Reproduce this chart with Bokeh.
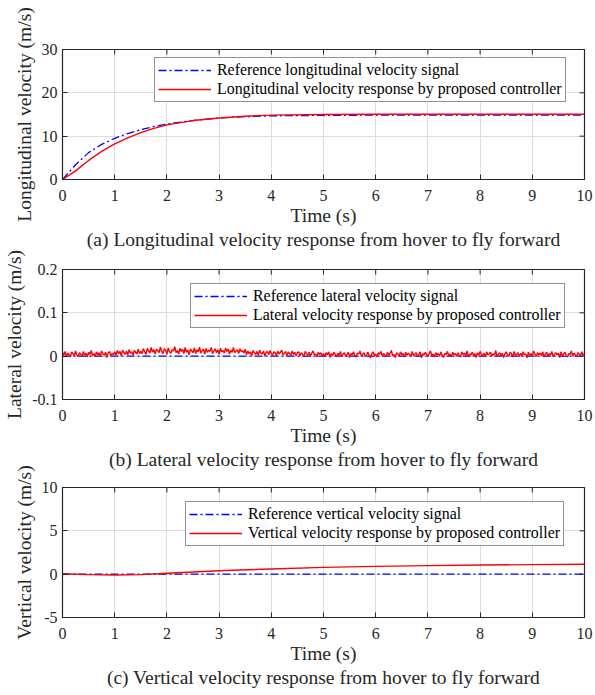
from bokeh.plotting import figure
from bokeh.layouts import column
from bokeh.models import (FixedTicker, Title, Legend, LegendItem, Range1d)
from bokeh.embed import file_html
from bokeh.resources import INLINE
import numpy as np

FONT = "'Liberation Serif', 'Times New Roman', serif"

# ---------------- data ----------------
# (a) longitudinal
lon_t = [0, 0.25, 0.5, 0.75, 1, 1.25, 1.5, 1.75, 2, 2.5, 3, 3.5, 4, 5, 6, 7, 8, 9, 10]
lon_ref = [0, 3.4, 6.2, 8.1, 9.5, 10.6, 11.5, 12.2, 12.8, 13.6, 14.2, 14.5, 14.7, 14.8, 14.85, 14.85, 14.85, 14.85, 14.85]
lon_resp = [0, 2.0, 4.4, 6.5, 8.2, 9.6, 10.8, 11.8, 12.6, 13.6, 14.2, 14.6, 14.85, 15.0, 15.05, 15.05, 15.05, 15.05, 15.05]

# (b) lateral (sampled every 0.025 s), response in 1e-3 m/s
lat_t = np.linspace(0, 10, 401)
lat_ref = [0.0] * 401
lat_resp_milli = [
    # 0 - 1 s
    9, 2, 11, 0, 7, 4, -2, 10, 6, 1, 12, 3, -1, 8, 5, 0, 11, 2, 7, -2,
    9, 4, 13, 1, 6, -1, 10, 3, 8, 0, 12, 5, 2, 9, -3, 7, 11, 1, 6, 3, 10,
    # 1 - 1.5 s
    2, 13, 6, 11, 1, 14, 8, 4, 12, 3, 15, 7, 10, 2, 13, 9, 5, 16, 6, 11,
    # 1.5 - 3.5 s
    6, 17, 10, 4, 18, 12, 7, 20, 9, 15, 5, 16, 13, 8, 21, 11, 6, 17, 14, 4,
    19, 10, 7, 15, 12, 22, 8, 13, 5, 18, 11, 16, 6, 20, 9, 14, 3, 17, 12, 8,
    19, 6, 15, 10, 21, 7, 13, 16, 5, 18, 9, 14, 11, 20, 6, 12, 17, 8, 15, 4,
    18, 10, 13, 7, 19, 11, 16, 5, 14, 9, 20, 8, 12, 15, 6, 17, 10, 13, 7, 16,
    # 3.5 - 4.5 s
    3, 12, 6, 10, 1, 13, 8, 4, 11, 2, 14, 7, 5, 12, 0, 9, 11, 3, 13, 6,
    2, 10, 8, 1, 12, 5, 9, 14, 3, 7, 11, 0, 10, 6, 2, 12, 4, 9, 1, 8,
    # 4.5 - 5 s
    10, 1, 8, 4, -1, 11, 6, 2, 9, 0, 7, 12, 3, 5, -2, 9, 4, 8, 1, 6,
    # 5 - 10 s
    -1, 8, 3, 10, -3, 6, 1, 9, 4, -2, 7, 2, 11, -1, 5, 8, 0, 4, 9, -3,
    6, 3, 10, 1, -2, 7, 5, 12, 0, 4, 8, -1, 3, 9, 2, -4, 6, 10, 1, 5,
    -2, 8, 4, 11, 0, 6, 3, -1, 9, 2, 7, 13, 1, 4, -3, 8, 5, 0, 10, 3,
    6, -2, 9, 2, 7, 4, -1, 11, 1, 5, 8, 0, 3, 10, -4, 6, 2, 9, 4, -1,
    7, 12, 1, 5, -2, 8, 3, 6, 0, 10, 2, -3, 7, 4, 11, 1, 5, -1, 9, 3,
    6, 0, 8, 2, -2, 10, 4, 7, 1, 12, -1, 5, 3, 9, 0, 6, -3, 8, 2, 11,
    4, 1, 7, -2, 10, 3, 5, 9, 0, 6, 2, 13, -1, 4, 8, 1, 7, -3, 5, 10,
    3, 0, 9, 6, -2, 11, 2, 4, 8, -1, 7, 1, 10, 3, 5, -4, 9, 2, 6, 0,
    12, 4, -1, 8, 3, 7, 1, 10, -2, 5, 9, 0, 6, 2, 11, -1, 4, 8, 3, 7,
    -3, 10, 1, 5, 9, 2, -2, 6, 4, 12, 0, 7, 3, -1, 8, 5, 2, 10, 1, 6,
]
lat_resp = [v / 1000.0 for v in lat_resp_milli]

# (c) vertical
ver_t = [0, 0.5, 1, 1.5, 2, 2.5, 3, 4, 5, 6, 7, 8, 9, 10]
ver_ref = [0] * 14
ver_resp = [0.05, -0.05, -0.1, -0.05, 0.1, 0.25, 0.4, 0.6, 0.78, 0.9, 0.98, 1.05, 1.1, 1.15]

x_ticks = [0, 1, 2, 3, 4, 5, 6, 7, 8, 9, 10]

AX = "#262626"
TICK_FS = "16px"
LABEL_FS = "19.5px"
LEG_FS = "15.9px"


def make_panel(t_ref, ref, t_resp, resp, yr, yticks, ylabels, ylabel, caption,
               ref_label, resp_label, top_border, bottom_border, legend_loc,
               top_margin=0):
    p = figure(frame_width=522, frame_height=130, output_backend="svg",
               toolbar_location=None, x_range=Range1d(0, 10),
               y_range=Range1d(*yr), min_border_left=62, min_border_right=11,
               min_border_top=top_border, min_border_bottom=bottom_border,
               x_axis_label="Time (s)", y_axis_label=ylabel,
               margin=(top_margin, 0, 0, 0))
    p.background_fill_color = "white"
    p.border_fill_color = None
    p.outline_line_color = AX
    p.outline_line_width = 1.2

    for ax in (p.xaxis[0], p.yaxis[0]):
        ax.major_label_text_font = FONT
        ax.major_label_text_font_size = TICK_FS
        ax.major_label_text_color = AX
        ax.axis_label_text_font = FONT
        ax.axis_label_text_font_size = LABEL_FS
        ax.axis_label_text_font_style = "normal"
        ax.axis_label_text_color = AX
        ax.axis_line_color = AX
        ax.major_tick_line_color = AX
        ax.major_tick_in = 5
        ax.major_tick_out = 0
        ax.minor_tick_line_color = None
    p.xaxis[0].ticker = FixedTicker(ticks=x_ticks)
    p.yaxis[0].ticker = FixedTicker(ticks=yticks)
    p.yaxis[0].major_label_overrides = dict(zip(yticks, ylabels))
    p.xaxis[0].major_label_standoff = 10
    p.xaxis[0].axis_label_standoff = 1
    p.yaxis[0].major_label_standoff = 5
    p.yaxis[0].axis_label_standoff = 4

    p.xgrid.ticker = FixedTicker(ticks=x_ticks)
    p.ygrid.ticker = FixedTicker(ticks=yticks)
    for g in (p.xgrid[0], p.ygrid[0]):
        g.grid_line_color = "#dddddd"
        g.grid_line_width = 1

    # inward ticks on top and right edges of the box (clipped to the frame)
    p.scatter(x_ticks, [yr[1]] * len(x_ticks), marker="dash", size=10, angle=np.pi / 2,
              line_color=AX, line_width=1)
    p.scatter([10] * len(yticks), yticks, marker="dash", size=10,
              line_color=AX, line_width=1)

    r_ref = p.line(t_ref, ref, line_color="blue", line_alpha=1.0, line_width=1.3,
                   line_dash="8 3 2 3")
    r_resp = p.line(t_resp, resp, line_color="red", line_alpha=1.0, line_width=1.4)

    leg = Legend(items=[LegendItem(label=ref_label, renderers=[r_ref]),
                        LegendItem(label=resp_label, renderers=[r_resp])],
                 location=legend_loc)
    leg.label_text_font = FONT
    leg.label_text_font_size = LEG_FS
    leg.label_text_color = "#000000"
    leg.border_line_color = AX
    leg.border_line_width = 1.2
    leg.background_fill_color = "white"
    leg.background_fill_alpha = 1
    leg.glyph_width = 53
    leg.glyph_height = 18
    leg.label_height = 18
    leg.label_standoff = 6
    leg.spacing = 1
    leg.padding = 3
    leg.margin = 0
    p.add_layout(leg, "center")

    cap = Title(text=caption, align="center", text_font=FONT, text_font_size=LABEL_FS,
                text_font_style="normal", text_color=AX, standoff=-3)
    p.add_layout(cap, "below")
    return p


p1 = make_panel(lon_t, lon_ref, lon_t, lon_resp, (0, 30), [0, 10, 20, 30],
                ["0", "10", "20", "30"],
                "Longitudinal velocity (m/s)",
                "(a) Longitudinal velocity response from hover to fly forward",
                "Reference longitudinal velocity signal",
                "Longitudinal velocity response by proposed controller",
                49, 76, (92, 77))
p2 = make_panel(lat_t, lat_ref, lat_t, lat_resp, (-0.1, 0.2), [-0.1, 0, 0.1, 0.2],
                ["-0.1", "0", "0.1", "0.2"],
                "Lateral velocity (m/s)",
                "(b) Lateral velocity response from hover to fly forward",
                "Reference lateral velocity signal",
                "Lateral velocity response by proposed controller",
                24, 76, (128, 71), top_margin=-10)
p3 = make_panel(ver_t, ver_ref, ver_t, ver_resp, (-5, 10), [-5, 0, 5, 10],
                ["-5", "0", "5", "10"],
                "Vertical velocity (m/s)",
                "(c) Vertical velocity response from hover to fly forward",
                "Reference vertical velocity signal",
                "Vertical velocity response by proposed controller",
                27, 78, (123, 71), top_margin=-15)

layout = column(p1, p2, p3, spacing=0)
open("out.html", "w").write(file_html(layout, INLINE))
